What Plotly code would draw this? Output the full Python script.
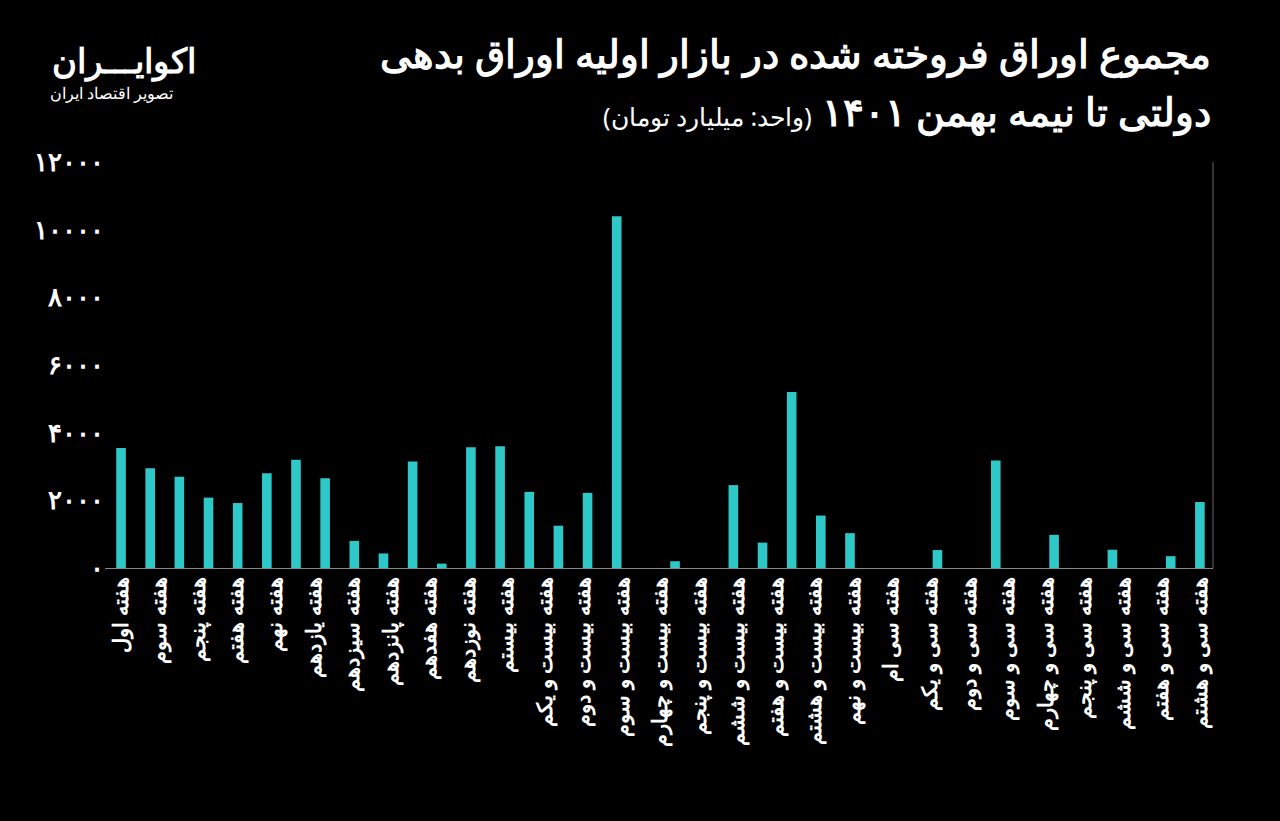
import plotly.graph_objects as go

values = [3550, 2950, 2700, 2080, 1920, 2800, 3200, 2650, 800, 430, 3150, 130, 3570, 3600,
          2250, 1250, 2220, 10400, 0, 200, 0, 2450, 750, 5200, 1550, 1030, 0, 0, 530, 0,
          3180, 0, 980, 0, 540, 0, 350, 1950]
tick_labels = ["هفته اول", "هفته سوم", "هفته پنجم", "هفته هفتم", "هفته نهم", "هفته یازدهم",
               "هفته سیزدهم", "هفته پانزدهم", "هفته هفدهم", "هفته نوزدهم", "هفته بیستم",
               "هفته بیست و یکم", "هفته بیست و دوم", "هفته بیست و سوم", "هفته بیست و چهارم",
               "هفته بیست و پنجم", "هفته بیست و ششم", "هفته بیست و هفتم", "هفته بیست و هشتم",
               "هفته بیست و نهم", "هفته سی ام", "هفته سی و یکم", "هفته سی و دوم", "هفته سی و سوم",
               "هفته سی و چهارم", "هفته سی و پنجم", "هفته سی و ششم", "هفته سی و هفتم", "هفته سی و هشتم"]
y_ticks = [0, 2000, 4000, 6000, 8000, 10000, 12000]
y_tick_text = ["۰", "۲۰۰۰", "۴۰۰۰", "۶۰۰۰", "۸۰۰۰", "۱۰۰۰۰", "۱۲۰۰۰"]

n = len(values)
xs = list(range(n))
tickvals = [i * (n - 1) / (len(tick_labels) - 1) for i in range(len(tick_labels))]

fig = go.Figure(go.Bar(x=xs, y=values, marker_color="#2ec8c8", marker_line_width=0, width=0.33))
font = "Noto Sans"
fig.update_layout(
    width=1280, height=821, paper_bgcolor="black", plot_bgcolor="black",
    margin=dict(l=105, r=67, t=162, b=253), showlegend=False,
    font=dict(family=font, color="white"),
    xaxis=dict(range=[-0.55, n - 0.55], tickvals=tickvals,
               ticktext=["<b>" + t + "</b>" for t in tick_labels],
               tickangle=-90, showgrid=False, zeroline=False, showline=True,
               linecolor="#888", linewidth=1, tickfont=dict(size=21, color="white")),
    yaxis=dict(range=[0, 12000], tickvals=y_ticks, ticktext=["<b>" + t + "</b>" for t in y_tick_text],
               showgrid=False, zeroline=False, tickfont=dict(size=26, color="white"), ticks=""),
    shapes=[dict(type="line", xref="paper", yref="paper", x0=1, x1=1, y0=0, y1=1,
                 line=dict(color="#666", width=1))],
    annotations=[
        dict(text="<b>مجموع اوراق فروخته شده در بازار اولیه اوراق بدهی</b>", xref="paper", yref="paper",
             x=1.0, y=1.0, yanchor="middle", xanchor="right", showarrow=False,
             font=dict(size=39, color="white")),
        dict(text="<b>دولتی تا نیمه بهمن ۱۴۰۱</b> <span style='font-size:25px'>(واحد: میلیارد تومان)</span>",
             xref="paper", yref="paper", x=1.0, y=1.0, xanchor="right", yanchor="middle",
             showarrow=False, font=dict(size=39, color="white")),
        dict(text="<b>اکوایـــران</b>", xref="paper", yref="paper", x=0, y=1, xanchor="left",
             yanchor="middle", showarrow=False, font=dict(size=34, color="white")),
        dict(text="تصویر اقتصاد ایران", xref="paper", yref="paper", x=0, y=1, xanchor="left",
             yanchor="middle", showarrow=False, font=dict(size=16, color="white")),
    ],
)
anns = fig.layout.annotations
anns[0].update(yshift=162 - 52)
anns[1].update(yshift=162 - 110)
anns[2].update(yshift=162 - 60, xshift=-55)
anns[3].update(yshift=162 - 93, xshift=-57)
fig.write_html("out.html", config={"displayModeBar": False},
               post_script="document.body.style.margin='0';")
